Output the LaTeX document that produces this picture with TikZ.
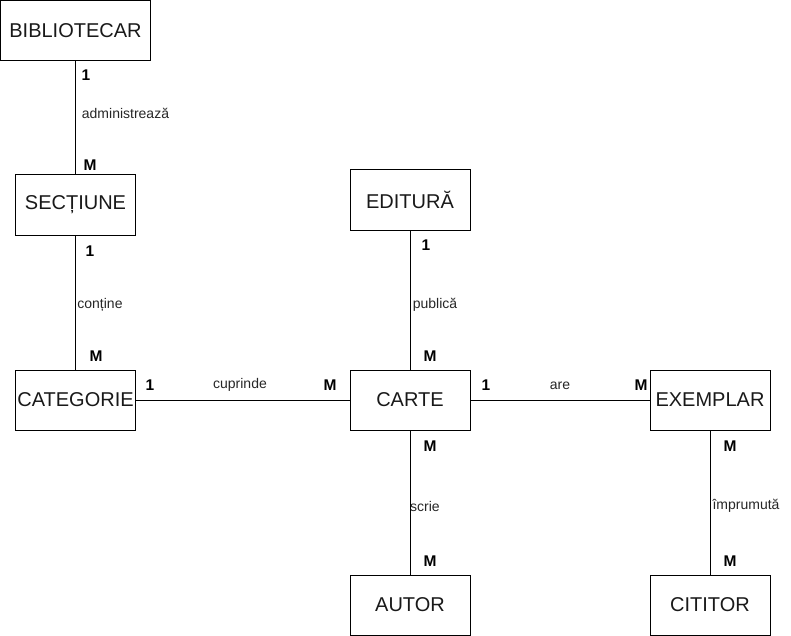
\documentclass[tikz,border=0pt]{standalone}
\usepackage{fontspec}
\setmainfont{Liberation Sans}
\begin{document}
\begin{tikzpicture}[x=1pt,y=-1pt,
  entity/.style={draw, line width=1pt, minimum width=120pt, minimum height=60pt, inner sep=0pt, font=\fontsize{20}{24}\selectfont, text=black!90},
  rel/.style={inner sep=0pt, font=\fontsize{14}{16}\selectfont, text=black!85},
  card/.style={inner sep=0pt, font=\fontsize{15.5}{18}\selectfont\bfseries},
  link/.style={line width=1pt}]
\useasboundingbox (0,0) rectangle (791,636);
% entities
\node[entity, minimum width=150pt] (bib) at (75.5,30.5) {\raisebox{-1.5pt}{BIBLIOTECAR}};
\node[entity] (sec) at (75.5,205) {\raisebox{-1.5pt}{SECȚIUNE}};
\node[entity] (cat) at (75.5,400) {\raisebox{-1.5pt}{CATEGORIE}};
\node[entity] (edi) at (410,200) {\raisebox{-1.5pt}{EDITURĂ}};
\node[entity] (car) at (410,400) {\raisebox{-1.5pt}{CARTE}};
\node[entity] (exe) at (710,400) {\raisebox{-1.5pt}{EXEMPLAR}};
\node[entity] (aut) at (410,605) {\raisebox{-1.5pt}{AUTOR}};
\node[entity] (cit) at (710,605) {\raisebox{-1.5pt}{CITITOR}};
% connectors
\draw[link] (bib.south) -- (sec.north);
\draw[link] (sec.south) -- (cat.north);
\draw[link] (cat.east) -- (car.west);
\draw[link] (edi.south) -- (car.north);
\draw[link] (car.east) -- (exe.west);
\draw[link] (car.south) -- (aut.north);
\draw[link] (exe.south) -- (cit.north);
% relation labels
\node[rel] (ladm) at (125.5,113) {administrează};
\node[rel] (lcon) at (100,305) {conține};
\node[rel] (lcup) at (240,385) {cuprinde};
\node[rel] (lpub) at (435,305) {publică};
\node[rel] (lare) at (560,386) {are};
\node[rel] (lscr) at (425,506) {scrie};
\node[rel] (limp) at (746,506) {împrumută};
% cardinalities
\node[card] (c1) at (86,75) {1};
\node[card] (c2) at (90,165) {M};
\node[card] (c3) at (90,251) {1};
\node[card] (c4) at (96,356) {M};
\node[card] (c5) at (150,385) {1};
\node[card] (c6) at (330,385) {M};
\node[card] (c7) at (426,245) {1};
\node[card] (c8) at (430,356) {M};
\node[card] (c9) at (486,385) {1};
\node[card] (c10) at (641,385) {M};
\node[card] (c11) at (430,446) {M};
\node[card] (c12) at (430,561) {M};
\node[card] (c13) at (730,446) {M};
\node[card] (c14) at (730,561) {M};
\end{tikzpicture}
\end{document}
